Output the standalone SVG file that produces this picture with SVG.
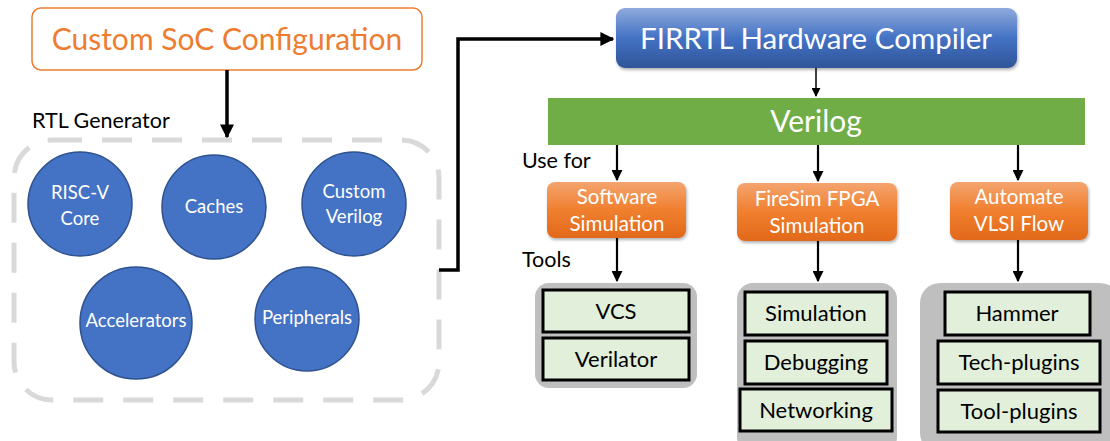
<svg xmlns="http://www.w3.org/2000/svg" width="1110" height="441" viewBox="0 0 1110 441">
<style>
text{font-family:Lato,"Liberation Sans",sans-serif}
.circ{fill:#4472C4;stroke:#2F528F;stroke-width:1.5}
.ct{fill:#fff;font-size:18.5px;text-anchor:middle}
.og{fill:url(#og);stroke:none}
.ot{fill:#fff;font-size:20.5px;text-anchor:middle}
.gray{fill:#BFBFBF}
.gb{fill:#E2EFDA;stroke:#000;stroke-width:3}
.gt{fill:#000;font-size:22px;text-anchor:middle}
.lbl{fill:#000;font-size:21.5px}
.thick{stroke:#000;stroke-width:3.5;fill:none}
.thin{stroke:#000;stroke-width:1.5;fill:none}
.mid{stroke:#000;stroke-width:2.2;fill:none}
</style>
<defs>
<linearGradient id="bg" x1="0" y1="0" x2="0" y2="1"><stop offset="0" stop-color="#8FAADC"/><stop offset="0.5" stop-color="#4472C4"/><stop offset="1" stop-color="#2F5597"/></linearGradient>
<linearGradient id="og" x1="0" y1="0" x2="0" y2="1"><stop offset="0" stop-color="#F4A46F"/><stop offset="0.5" stop-color="#F07F2E"/><stop offset="1" stop-color="#E2691A"/></linearGradient>
<filter id="sh" x="-10%" y="-10%" width="130%" height="140%"><feDropShadow dx="1" dy="2" stdDeviation="1.5" flood-color="#000" flood-opacity="0.3"/></filter>
<marker id="ah" viewBox="0 0 10 10" refX="9" refY="5" markerWidth="4" markerHeight="4" markerUnits="strokeWidth" orient="auto"><path d="M0,0 L10,5 L0,10 z" fill="#000"/></marker>
<marker id="ahs" viewBox="0 0 10 10" refX="9" refY="5" markerWidth="6" markerHeight="6" markerUnits="strokeWidth" orient="auto"><path d="M0,0 L10,5 L0,10 z" fill="#000"/></marker>
<marker id="ahm" viewBox="0 0 10 10" refX="9" refY="5" markerWidth="5" markerHeight="5" markerUnits="strokeWidth" orient="auto"><path d="M0,0 L10,5 L0,10 z" fill="#000"/></marker>
</defs>

<g id="soc-config">
<rect x="32" y="8" width="390" height="62" rx="9" fill="#fff" stroke="#ED7D31" stroke-width="1.5"/>
<text x="227" y="50" font-size="30" fill="#ED7D31" text-anchor="middle">Custom SoC Configuration</text>
</g>

<g id="rtl-generator">
<text x="32" y="128" class="lbl" font-size="18.5">RTL Generator</text>
<rect x="14" y="140" width="425" height="260" rx="38" fill="none" stroke="#D9D9D9" stroke-width="5" stroke-dasharray="30 20"/>
</g>

<g id="risc-v-core"><circle class="circ" cx="80" cy="204" r="52"/><text class="ct" x="80" y="199">RISC-V</text><text class="ct" x="80" y="225">Core</text></g>
<g id="caches"><circle class="circ" cx="214" cy="207" r="52"/><text class="ct" x="214" y="213">Caches</text></g>
<g id="custom-verilog"><circle class="circ" cx="354" cy="204" r="52"/><text class="ct" x="354" y="198">Custom</text><text class="ct" x="354" y="223">Verilog</text></g>
<g id="accelerators"><circle class="circ" cx="136" cy="323" r="56"/><text class="ct" x="136" y="327">Accelerators</text></g>
<g id="peripherals"><circle class="circ" cx="307" cy="319" r="52"/><text class="ct" x="307" y="324">Peripherals</text></g>

<g id="firrtl">
<rect x="616" y="8" width="401" height="60" rx="9" fill="url(#bg)" filter="url(#sh)"/>
<text x="816" y="49" font-size="29.5" fill="#fff" text-anchor="middle">FIRRTL Hardware Compiler</text>
</g>

<g id="verilog">
<rect x="548" y="98" width="537" height="47" fill="#70AD47"/>
<text x="816" y="132" font-size="30" fill="#fff" text-anchor="middle">Verilog</text>
</g>

<text x="522" y="168" class="lbl">Use for</text>
<text x="522" y="267" class="lbl">Tools</text>

<g id="software-simulation"><rect class="og" x="547" y="182" width="139" height="56" rx="8" filter="url(#sh)"/><text class="ot" x="617" y="204">Software</text><text class="ot" x="617" y="231">Simulation</text></g>
<g id="firesim"><rect class="og" x="737" y="183" width="160" height="58" rx="8" filter="url(#sh)"/><text class="ot" x="817" y="206">FireSim FPGA</text><text class="ot" x="817" y="233">Simulation</text></g>
<g id="vlsi-flow"><rect class="og" x="950" y="182" width="138" height="58" rx="8" filter="url(#sh)"/><text class="ot" x="1019" y="204">Automate</text><text class="ot" x="1019" y="231">VLSI Flow</text></g>

<g id="sw-tools">
<rect class="gray" x="535" y="283" width="162" height="105" rx="14"/>
<rect class="gb" x="543" y="290" width="146" height="42"/><text class="gt" x="616" y="319">VCS</text>
<rect class="gb" x="543" y="338" width="146" height="42"/><text class="gt" x="616" y="367">Verilator</text>
</g>
<g id="firesim-tools">
<rect class="gray" x="737" y="283" width="160" height="170" rx="16"/>
<rect class="gb" x="745" y="292" width="142" height="43"/><text class="gt" x="816" y="321">Simulation</text>
<rect class="gb" x="745" y="341" width="142" height="43"/><text class="gt" x="816" y="370">Debugging</text>
<rect class="gb" x="740" y="389" width="152" height="42"/><text class="gt" x="816" y="418">Networking</text>
</g>
<g id="vlsi-tools">
<rect class="gray" x="920" y="283" width="200" height="170" rx="20"/>
<rect class="gb" x="945" y="292" width="145" height="43"/><text class="gt" x="1017" y="321">Hammer</text>
<rect class="gb" x="938" y="341" width="162" height="43"/><text class="gt" x="1019" y="370">Tech-plugins</text>
<rect class="gb" x="938" y="390" width="162" height="42"/><text class="gt" x="1019" y="419">Tool-plugins</text>
</g>

<g id="connectors">
<path class="thick" d="M227,70 V137" marker-end="url(#ah)"/>
<path class="thick" d="M439,270 H458 V39 H613" marker-end="url(#ah)"/>
<path class="thin" d="M816,68 V96" marker-end="url(#ahs)"/>
<path class="mid" d="M617,145 V180" marker-end="url(#ahm)"/>
<path class="mid" d="M818,145 V181" marker-end="url(#ahm)"/>
<path class="mid" d="M1018,145 V180" marker-end="url(#ahm)"/>
<path class="mid" d="M617,238 V281" marker-end="url(#ahm)"/>
<path class="mid" d="M818,241 V281" marker-end="url(#ahm)"/>
<path class="mid" d="M1018,240 V281" marker-end="url(#ahm)"/>
</g>
</svg>
